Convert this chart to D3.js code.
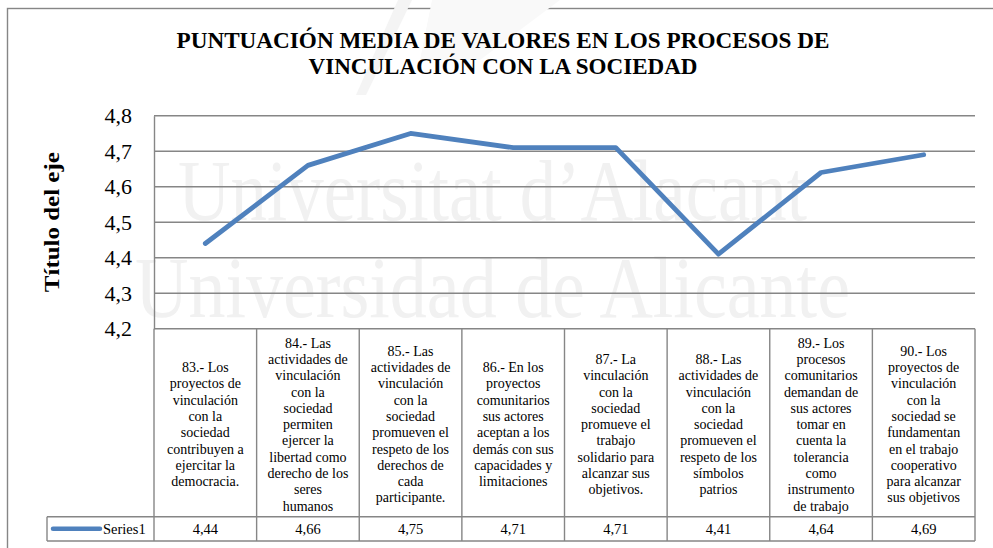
<!DOCTYPE html>
<html lang="es">
<head>
<meta charset="utf-8">
<script src="https://cdn.jsdelivr.net/npm/d3@7"></script>
<style>
  html, body { margin: 0; padding: 0; background: #ffffff; }
  svg { display: block; }
  svg text { font-family: "Liberation Serif", "Times New Roman", serif; }
</style>
</head>
<body>
<svg id="chart" width="993" height="548"></svg>
<script>
// Items of the questionnaire (line breaks as laid out in the table)
const categories = [
  "83.- Los\nproyectos de\nvinculación\ncon la\nsociedad\ncontribuyen a\nejercitar la\ndemocracia.",
  "84.- Las\nactividades de\nvinculación\ncon la\nsociedad\npermiten\nejercer la\nlibertad como\nderecho de los\nseres\nhumanos",
  "85.- Las\nactividades de\nvinculación\ncon la\nsociedad\npromueven el\nrespeto de los\nderechos de\ncada\nparticipante.",
  "86.- En los\nproyectos\ncomunitarios\nsus actores\naceptan a los\ndemás con sus\ncapacidades y\nlimitaciones",
  "87.- La\nvinculación\ncon la\nsociedad\npromueve el\ntrabajo\nsolidario para\nalcanzar sus\nobjetivos.",
  "88.- Las\nactividades de\nvinculación\ncon la\nsociedad\npromueven el\nrespeto de los\nsímbolos\npatrios",
  "89.- Los\nprocesos\ncomunitarios\ndemandan de\nsus actores\ntomar en\ncuenta la\ntolerancia\ncomo\ninstrumento\nde trabajo",
  "90.- Los\nproyectos de\nvinculación\ncon la\nsociedad se\nfundamentan\nen el trabajo\ncooperativo\npara alcanzar\nsus objetivos"
];
const seriesName = "Series1";
const series1 = [4.44, 4.66, 4.75, 4.71, 4.71, 4.41, 4.64, 4.69];
const yTicks = [4.2, 4.3, 4.4, 4.5, 4.6, 4.7, 4.8];
const titleLines = [
  "PUNTUACIÓN MEDIA DE VALORES EN LOS PROCESOS DE",
  "VINCULACIÓN CON LA SOCIEDAD"
];
const yAxisTitle = "Título del eje";
const watermarkLines = ["Universitat d\u2019Alacant", "Universidad de Alicante"];

const svg = d3.select("#chart");
const serif = "Liberation Serif, Times New Roman, serif";
const gridColor = "#868686";
const lineColor = "#4F81BD";

// Plot geometry
const plot = { left: 154, right: 975, top: 115.7, bottom: 328.7 };
const table = { catBottom: 516.7, bottom: 541, legendLeft: 47 };

const x = d3.scaleBand().domain(d3.range(categories.length)).range([plot.left, plot.right]).padding(0);
const y = d3.scaleLinear().domain([4.2, 4.8]).range([plot.bottom, plot.top]);
const fmt = v => d3.format(".2f")(v).replace(".", ",");

// Chart area border
svg.append("rect")
  .attr("x", 7.5).attr("y", 8.5).attr("width", 1000).attr("height", 600)
  .attr("fill", "#fff").attr("stroke", gridColor).attr("stroke-width", 1.4);

// Faint background emblem and lettering
const bg = svg.append("g").attr("pointer-events", "none");
bg.append("path").attr("d", "M398,0 L412,0 L366,95 L356,95 Z").attr("fill", "#f4f4f4");
bg.append("path").attr("d", "M432,0 L560,0 L480,60 L420,60 Z").attr("fill", "#f9f9f9");
const wm = [
  { text: watermarkLines[0], x: 178, y: 220, w: 629 },
  { text: watermarkLines[1], x: 135, y: 317, w: 715 }
];
bg.selectAll("text.wm").data(wm).join("text")
  .attr("class", "wm")
  .attr("x", d => d.x).attr("y", d => d.y)
  .attr("textLength", d => d.w).attr("lengthAdjust", "spacingAndGlyphs")
  .attr("font-family", serif).attr("font-size", 86)
  .attr("fill", "#f1f1f1")
  .text(d => d.text);

// Title
const titleWidths = [653, 389];
svg.append("g").selectAll("text").data(titleLines).join("text")
  .attr("x", 503).attr("y", (d, i) => 48 + i * 26)
  .attr("text-anchor", "middle")
  .attr("font-family", serif).attr("font-weight", "bold").attr("font-size", 23)
  .attr("textLength", (d, i) => titleWidths[i]).attr("lengthAdjust", "spacingAndGlyphs")
  .attr("fill", "#000")
  .text(d => d);

// Horizontal gridlines
svg.append("g").selectAll("line").data(yTicks).join("line")
  .attr("x1", plot.left).attr("x2", plot.right)
  .attr("y1", d => y(d)).attr("y2", d => y(d))
  .attr("stroke", gridColor).attr("stroke-width", 1.4);

// Vertical axis with comma decimal labels
const yAxis = svg.append("g")
  .attr("transform", `translate(${plot.left},0)`)
  .call(d3.axisLeft(y).tickValues(yTicks).tickSize(0).tickPadding(22)
    .tickFormat(d => d3.format(".1f")(d).replace(".", ",")));
yAxis.attr("font-family", serif);
yAxis.select(".domain").attr("stroke", gridColor).attr("stroke-width", 1.4);
yAxis.selectAll("text")
  .attr("font-family", serif).attr("font-size", 22).attr("fill", "#000");

// Axis title
svg.append("text")
  .attr("transform", `translate(59,${(plot.top + plot.bottom) / 2}) rotate(-90)`)
  .attr("text-anchor", "middle")
  .attr("font-family", serif).attr("font-weight", "bold").attr("font-size", 22)
  .attr("textLength", 140).attr("lengthAdjust", "spacingAndGlyphs")
  .attr("fill", "#000")
  .text(yAxisTitle);

// Data table below the plot
const tbl = svg.append("g").attr("stroke", gridColor).attr("stroke-width", 1.4).attr("fill", "none");
tbl.append("line").attr("x1", table.legendLeft).attr("x2", plot.right).attr("y1", table.catBottom).attr("y2", table.catBottom);
tbl.append("line").attr("x1", table.legendLeft).attr("x2", plot.right).attr("y1", table.bottom).attr("y2", table.bottom);
tbl.append("line").attr("x1", table.legendLeft).attr("x2", table.legendLeft).attr("y1", table.catBottom).attr("y2", table.bottom);
tbl.append("line").attr("x1", plot.left).attr("x2", plot.left).attr("y1", plot.bottom).attr("y2", table.bottom);
tbl.selectAll("line.col").data(d3.range(categories.length)).join("line")
  .attr("class", "col")
  .attr("x1", i => x(i) + x.bandwidth()).attr("x2", i => x(i) + x.bandwidth())
  .attr("y1", plot.bottom).attr("y2", table.bottom);

// Category labels
const lineH = 16.3;
const catMid = (plot.bottom + table.catBottom) / 2 + 1.5;
const cat = svg.append("g").selectAll("text").data(categories).join("text")
  .attr("text-anchor", "middle")
  .attr("font-family", serif).attr("font-size", 14).attr("fill", "#000");
cat.each(function (d, i) {
  const lines = d.split("\n");
  const n = lines.length;
  d3.select(this).selectAll("tspan").data(lines).join("tspan")
    .attr("x", x(i) + x.bandwidth() / 2)
    .attr("y", (l, k) => catMid + (k - (n - 1) / 2) * lineH)
    .attr("dy", "0.35em")
    .text(l => l);
});

// Values row
svg.append("g").selectAll("text").data(series1).join("text")
  .attr("x", (d, i) => x(i) + x.bandwidth() / 2)
  .attr("y", (table.catBottom + table.bottom) / 2)
  .attr("dy", "0.35em")
  .attr("text-anchor", "middle")
  .attr("font-family", serif).attr("font-size", 14.5).attr("fill", "#000")
  .text(d => fmt(d));

// Legend key in the table
const legY = (table.catBottom + table.bottom) / 2;
svg.append("line")
  .attr("x1", 53).attr("x2", 100).attr("y1", legY).attr("y2", legY)
  .attr("stroke", lineColor).attr("stroke-width", 4.5).attr("stroke-linecap", "round");
svg.append("text")
  .attr("x", 103).attr("y", legY).attr("dy", "0.35em")
  .attr("font-family", serif).attr("font-size", 14.5).attr("fill", "#000")
  .text(seriesName);

// Series line
const line = d3.line()
  .x((d, i) => x(i) + x.bandwidth() / 2)
  .y(d => y(d));
svg.append("path")
  .datum(series1)
  .attr("d", line)
  .attr("fill", "none")
  .attr("stroke", lineColor)
  .attr("stroke-width", 4.8)
  .attr("stroke-linejoin", "round")
  .attr("stroke-linecap", "round");
</script>
</body>
</html>
